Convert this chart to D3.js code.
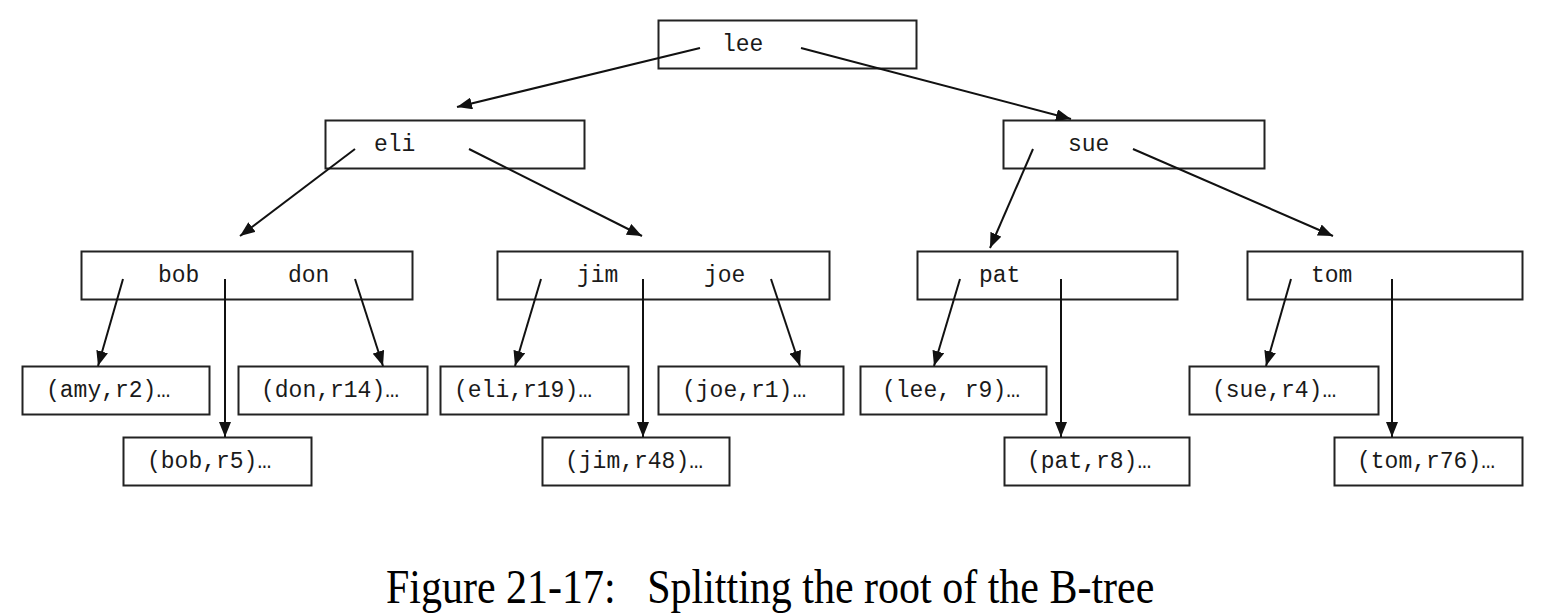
<!DOCTYPE html>
<html>
<head>
<meta charset="utf-8">
<script src="https://cdn.jsdelivr.net/npm/d3@7"></script>
<style>
html,body{margin:0;padding:0;background:#fff;}
svg{display:block;}
</style>
</head>
<body>
<svg id="chart" width="1546" height="616"></svg>
<script>
// ---------- DATA ----------
const internalIds   = ["lee", "eli", "sue", "bobdon", "jimjoe", "pat", "tom"];
const internalKeys  = [["lee"], ["eli"], ["sue"], ["bob", "don"], ["jim", "joe"], ["pat"], ["tom"]];
const leafIds       = ["amy", "don14", "eli19", "joe1", "lee9", "sue4", "bob5", "jim48", "pat8", "tom76"];
const leafLabels    = ["(amy,r2)…", "(don,r14)…", "(eli,r19)…", "(joe,r1)…", "(lee, r9)…",
                       "(sue,r4)…", "(bob,r5)…", "(jim,r48)…", "(pat,r8)…", "(tom,r76)…"];
const edgeFrom      = ["lee", "lee", "eli", "eli", "sue", "sue",
                       "bobdon", "bobdon", "bobdon", "jimjoe", "jimjoe", "jimjoe",
                       "pat", "pat", "tom", "tom"];
const edgeTo        = ["eli", "sue", "bobdon", "jimjoe", "pat", "tom",
                       "amy", "bob5", "don14", "eli19", "jim48", "joe1",
                       "lee9", "pat8", "sue4", "tom76"];
const captionText   = "Figure 21-17:   Splitting the root of the B-tree";

// ---------- LAYOUT (positions kept apart from data) ----------
const rowY = d3.scaleOrdinal().domain(["root", "mid", "low", "leafA", "leafB"]).range([20, 120, 251, 366, 437]);
const boxLayout = {
  lee:    {x0: 658,  x1: 916,  row: "root",  tx: [722]},
  eli:    {x0: 325,  x1: 584,  row: "mid",   tx: [374]},
  sue:    {x0: 1003, x1: 1264, row: "mid",   tx: [1068]},
  bobdon: {x0: 81,   x1: 412,  row: "low",   tx: [158, 288]},
  jimjoe: {x0: 497,  x1: 829,  row: "low",   tx: [577, 704]},
  pat:    {x0: 917,  x1: 1177, row: "low",   tx: [979]},
  tom:    {x0: 1247, x1: 1522, row: "low",   tx: [1311]},
  amy:    {x0: 22,   x1: 209,  row: "leafA", tx: [46]},
  don14:  {x0: 238,  x1: 427,  row: "leafA", tx: [261]},
  eli19:  {x0: 440,  x1: 628,  row: "leafA", tx: [454]},
  joe1:   {x0: 658,  x1: 843,  row: "leafA", tx: [682]},
  lee9:   {x0: 860,  x1: 1046, row: "leafA", tx: [882]},
  sue4:   {x0: 1189, x1: 1378, row: "leafA", tx: [1212]},
  bob5:   {x0: 123,  x1: 311,  row: "leafB", tx: [147]},
  jim48:  {x0: 542,  x1: 729,  row: "leafB", tx: [565]},
  pat8:   {x0: 1004, x1: 1189, row: "leafB", tx: [1027]},
  tom76:  {x0: 1334, x1: 1522, row: "leafB", tx: [1357]}
};
const boxH = 48;
// arrow start (inside parent) and tip positions
const edgeLayout = [
  [700, 48, 457, 107], [801, 48, 1071, 119],
  [355, 149, 240, 236], [469, 149, 642, 236],
  [1033, 149, 990, 248], [1133, 149, 1333, 236],
  [123, 279, 98, 366], [225, 279, 225, 437], [355, 279, 383, 366],
  [541, 279, 515, 366], [643, 279, 643, 437], [771, 279, 800, 366],
  [960, 279, 934, 366], [1061, 279, 1061, 437],
  [1291, 279, 1266, 366], [1392, 279, 1392, 437]
];

// ---------- DRAW ----------
const svg = d3.select("#chart");
svg.append("defs").append("marker")
  .attr("id", "arrow")
  .attr("viewBox", "0 0 15 12")
  .attr("refX", 15).attr("refY", 6)
  .attr("markerWidth", 15).attr("markerHeight", 12)
  .attr("markerUnits", "userSpaceOnUse")
  .attr("orient", "auto")
  .append("path").attr("d", "M0,0 L15,6 L0,12 Z").attr("fill", "#111");

const nodes = internalIds.map((id, i) => ({id, keys: internalKeys[i], kind: "internal"}))
  .concat(leafIds.map((id, i) => ({id, keys: [leafLabels[i]], kind: "leaf"})));

const g = svg.append("g");
const boxes = g.selectAll("g.node").data(nodes).join("g").attr("class", "node");
boxes.append("rect")
  .attr("x", d => boxLayout[d.id].x0 + 0.5)
  .attr("y", d => rowY(boxLayout[d.id].row) + 0.5)
  .attr("width", d => boxLayout[d.id].x1 - boxLayout[d.id].x0)
  .attr("height", boxH)
  .attr("fill", "#fff").attr("stroke", "#222").attr("stroke-width", 2);

boxes.each(function(d) {
  const L = boxLayout[d.id];
  d3.select(this).selectAll("text").data(d.keys).join("text")
    .attr("x", (k, j) => L.tx[j])
    .attr("y", rowY(L.row) + boxH / 2 - 1)
    .attr("dy", "0.35em")
    .attr("font-family", "'Liberation Mono', 'Courier New', monospace")
    .attr("font-size", 23)
    .attr("fill", "#1a1a1a")
    .text(k => k);
});

const edges = edgeFrom.map((f, i) => ({from: f, to: edgeTo[i], p: edgeLayout[i]}));
g.selectAll("line.edge").data(edges).join("line").attr("class", "edge")
  .attr("x1", d => d.p[0]).attr("y1", d => d.p[1])
  .attr("x2", d => d.p[2]).attr("y2", d => d.p[3])
  .attr("stroke", "#111").attr("stroke-width", 2)
  .attr("marker-end", "url(#arrow)");

svg.append("g")
  .attr("transform", "translate(0,603) scale(1,1.17)")
  .append("text")
  .attr("x", 386).attr("y", 0)
  .attr("text-anchor", "start")
  .attr("font-family", "'Liberation Serif', 'Times New Roman', serif")
  .attr("font-size", 42)
  .attr("fill", "#000")
  .style("white-space", "pre")
  .text(captionText);
</script>
</body>
</html>
